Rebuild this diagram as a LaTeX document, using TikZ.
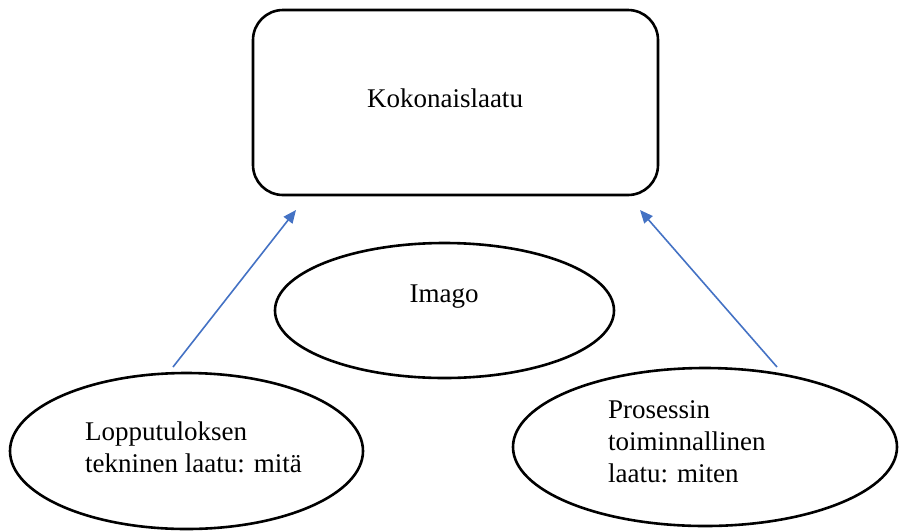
\documentclass[tikz,border=0pt]{standalone}
\usepackage{fontspec}
\setmainfont{Liberation Serif}
\usetikzlibrary{shapes.geometric,arrows.meta}
\begin{document}
\begin{tikzpicture}[x=1pt,y=-1pt,
  shapeline/.style={draw=black,line width=2.6pt,inner sep=0pt,outer sep=0pt},
  ell/.style={shapeline,ellipse},
  txt/.style={font=\fontsize{27}{32}\selectfont,inner sep=0pt,align=left},
  conn/.style={draw={rgb,255:red,68;green,114;blue,196},line width=1.6pt,
    -{Triangle[length=13pt,width=11pt]}}]
\useasboundingbox (0,0) rectangle (899,531);
\node[shapeline,rounded corners=30pt,minimum width=405pt,minimum height=185pt] (top) at (455.5,102.5) {};
\node[txt] (toptxt) at (445,98) {Kokonaislaatu};
\node[ell,minimum width=339pt,minimum height=135pt] (imago) at (444.5,310.5) {};
\node[txt] (imagotxt) at (444,297) {Imago};
\node[ell,minimum width=353pt,minimum height=156pt] (left) at (186.5,451) {};
\node[txt,anchor=west] (lefttxt) at (85,447) {Lopputuloksen\\tekninen laatu: mitä};
\node[ell,minimum width=384pt,minimum height=158pt] (right) at (705,447) {};
\node[txt,anchor=west] (righttxt) at (608,442) {Prosessin\\toiminnallinen\\laatu: miten};
\coordinate (ls) at (173,367);
\coordinate (le) at (296,210);
\coordinate (rs) at (777,367);
\coordinate (re) at (640,210);
\draw[conn] (ls) -- (le);
\draw[conn] (rs) -- (re);
\end{tikzpicture}
\end{document}
